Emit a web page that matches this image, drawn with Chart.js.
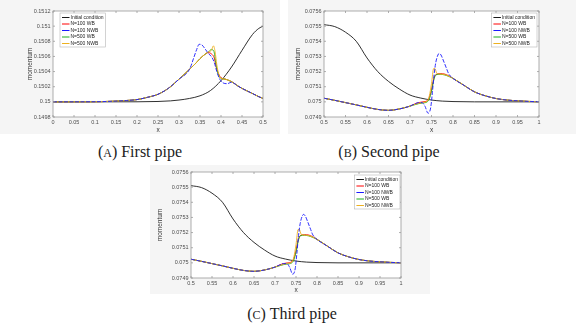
<!DOCTYPE html>
<html>
<head>
<meta charset="utf-8">
<script src="https://cdn.jsdelivr.net/npm/chart.js@4.4.1/dist/chart.umd.min.js"></script>
<style>
body { margin:0; width:576px; height:329px; background:#fff; position:relative; overflow:hidden; }
canvas { position:absolute; background:#f5f5f5; }
.cap { position:absolute; font-family:"Liberation Serif", "Times New Roman", serif; font-size:16px; line-height:16px; color:#222; white-space:nowrap; transform:translateX(-50%); }
.sc { font-size:12px; }
</style>
</head>
<body>
<canvas id="pipe1" width="280" height="134" style="left:0;top:0"></canvas>
<canvas id="pipe2" width="288" height="134" style="left:288px;top:0"></canvas>
<canvas id="pipe3" width="280" height="129" style="left:150px;top:165px"></canvas>
<div class="cap" style="left:140px;top:144px">(<span class="sc">A</span>) First pipe</div>
<div class="cap" style="left:389px;top:144px">(<span class="sc">B</span>) Second pipe</div>
<div class="cap" style="left:292px;top:306px">(<span class="sc">C</span>) Third pipe</div>
<script>
// series names
var seriesNames = ["Initial condition", "N=100 WB", "N=100 NWB", "N=500 WB", "N=500 NWB"];

// ---- first pipe ----
var xTicksA = [0, 0.05, 0.1, 0.15, 0.2, 0.25, 0.3, 0.35, 0.4, 0.45, 0.5];
var xLabelsA = ["0", "0.05", "0.1", "0.15", "0.2", "0.25", "0.3", "0.35", "0.4", "0.45", "0.5"];
var yTicksA = [0.1498, 0.15, 0.1502, 0.1504, 0.1506, 0.1508, 0.151, 0.1512];
var yLabelsA = ["0.1498", "0.15", "0.1502", "0.1504", "0.1506", "0.1508", "0.151", "0.1512"];

var xInitA = [0, 0.1, 0.2, 0.25, 0.28, 0.3, 0.325, 0.35, 0.375, 0.4, 0.425, 0.45, 0.475, 0.49, 0.5];
var yInitA = [0.15, 0.15, 0.150001, 0.150005, 0.150013, 0.150024, 0.150045, 0.15008, 0.15015, 0.15028, 0.15046, 0.15068, 0.15089, 0.15097, 0.151];

// part shared by the four runs
var xRiseA = [0, 0.1, 0.15, 0.175, 0.2, 0.225, 0.25, 0.275, 0.3, 0.325];
var yRiseA = [0.15, 0.150002, 0.15001, 0.150018, 0.15003, 0.15006, 0.1501, 0.15018, 0.1503, 0.15043];
var xTailA = [0.44, 0.45, 0.46, 0.475, 0.49, 0.5];
var yTailA = [0.15021, 0.150178, 0.15015, 0.15011, 0.150068, 0.150045];

var xWb100A = [0.34, 0.35, 0.36, 0.369, 0.378, 0.384, 0.389, 0.395, 0.4, 0.41, 0.42, 0.43];
var yWb100A = [0.15051, 0.15057, 0.15062, 0.15065, 0.15063, 0.15058, 0.15045, 0.15036, 0.15032, 0.1503, 0.15028, 0.15025];
var xNwb100A = [0.335, 0.342, 0.348, 0.355, 0.362, 0.37, 0.378, 0.384, 0.39, 0.397, 0.405, 0.415, 0.425, 0.435];
var yNwb100A = [0.15058, 0.15069, 0.15076, 0.15075, 0.1507, 0.15064, 0.15059, 0.15052, 0.1504, 0.1503, 0.15025, 0.15024, 0.15026, 0.15023];
var xWb500A = [0.34, 0.35, 0.36, 0.37, 0.377, 0.383, 0.388, 0.393, 0.4, 0.41, 0.42, 0.43];
var yWb500A = [0.15051, 0.15057, 0.15062, 0.15066, 0.15069, 0.15067, 0.1505, 0.15037, 0.15031, 0.1503, 0.15028, 0.15025];
var xNwb500A = [0.34, 0.35, 0.36, 0.37, 0.377, 0.382, 0.386, 0.39, 0.395, 0.4, 0.41, 0.42, 0.43];
var yNwb500A = [0.15051, 0.15057, 0.15062, 0.15066, 0.15068, 0.15074, 0.15066, 0.15049, 0.15036, 0.15031, 0.1503, 0.15028, 0.15025];

// ---- second and third pipe (same curves) ----
var xTicksB = [0.5, 0.55, 0.6, 0.65, 0.7, 0.75, 0.8, 0.85, 0.9, 0.95, 1];
var xLabelsB = ["0.5", "0.55", "0.6", "0.65", "0.7", "0.75", "0.8", "0.85", "0.9", "0.95", "1"];
var yTicksB = [0.0749, 0.075, 0.0751, 0.0752, 0.0753, 0.0754, 0.0755, 0.0756];
var yLabelsB = ["0.0749", "0.075", "0.0751", "0.0752", "0.0753", "0.0754", "0.0755", "0.0756"];

var xInitB = [0.5, 0.525, 0.55, 0.575, 0.6, 0.625, 0.65, 0.675, 0.7, 0.725, 0.75, 0.775, 0.8, 0.85, 1];
var yInitB = [0.07551, 0.075497, 0.07546, 0.0754, 0.07529, 0.0752, 0.075135, 0.075085, 0.075045, 0.075025, 0.075012, 0.075005, 0.075002, 0.075, 0.075];

var xStartB = [0.5, 0.525, 0.55, 0.575, 0.6, 0.625, 0.65, 0.675, 0.7];
var yStartB = [0.075024, 0.07501, 0.074995, 0.07498, 0.074964, 0.07495, 0.074944, 0.074953, 0.074972];
var xTailB = [0.8, 0.825, 0.85, 0.875, 0.9, 0.925, 0.95, 0.975, 1];
var yTailB = [0.075155, 0.07511, 0.075066, 0.07504, 0.075022, 0.075012, 0.075007, 0.075003, 0.075001];

var xWb100B = [0.71, 0.72, 0.73, 0.74, 0.745, 0.75, 0.755, 0.76, 0.77, 0.78, 0.79];
var yWb100B = [0.074985, 0.074995, 0.075, 0.075008, 0.07503, 0.07508, 0.07515, 0.07518, 0.075186, 0.075184, 0.075172];
var xNwb100B = [0.71, 0.72, 0.728, 0.735, 0.742, 0.748, 0.752, 0.756, 0.76, 0.765, 0.768, 0.772, 0.778, 0.785, 0.79];
var yNwb100B = [0.074985, 0.074995, 0.074995, 0.07497, 0.074925, 0.07496, 0.07506, 0.07518, 0.07526, 0.07531, 0.07532, 0.07531, 0.07527, 0.07522, 0.075185];
var xWb500B = [0.71, 0.72, 0.73, 0.74, 0.745, 0.75, 0.755, 0.76, 0.77, 0.78, 0.79];
var yWb500B = [0.07498, 0.074988, 0.074993, 0.075, 0.07502, 0.07507, 0.07514, 0.075178, 0.075182, 0.075178, 0.075168];
var xNwb500B = [0.71, 0.72, 0.73, 0.74, 0.745, 0.75, 0.755, 0.758, 0.762, 0.77, 0.78, 0.79];
var yNwb500B = [0.074982, 0.07499, 0.074996, 0.075005, 0.07504, 0.07512, 0.07522, 0.07522, 0.07519, 0.075183, 0.07518, 0.07517];

var lineColors = ["#1a1a1a", "#ff0000", "#1a1aff", "#1fae1f", "#edb120"];
var lineDashes = [[], [], [4, 1.5], [], []];
var drawOrder = [4, 3, 0, 2, 1];

function pts(xs, ys) {
    return xs.map(function (x, i) { return { x: x, y: ys[i] }; });
}

function buildSets(curves) {
    return curves.map(function (c, i) {
        return {
            label: seriesNames[i],
            data: c,
            borderColor: lineColors[i],
            borderDash: lineDashes[i],
            borderWidth: 0.9,
            pointRadius: 0,
            fill: false,
            cubicInterpolationMode: "monotone",
            order: drawOrder[i]
        };
    });
}

var tickFont = { family: "'Liberation Sans', Arial, sans-serif", size: 5.5 };
var titleFont = { family: "'Liberation Sans', Arial, sans-serif", size: 6.5 };

// white axes box, frame and inward tick marks like matlab
var axesBox = {
    id: "axesBox",
    beforeDraw: function (chart) {
        var a = chart.chartArea, ctx = chart.ctx;
        ctx.save();
        ctx.fillStyle = "#fff";
        ctx.fillRect(a.left, a.top, a.right - a.left, a.bottom - a.top);
        ctx.restore();
    },
    afterDatasetsDraw: function (chart) {
        var a = chart.chartArea, ctx = chart.ctx;
        var sx = chart.scales.x, sy = chart.scales.y;
        ctx.save();
        ctx.strokeStyle = "#9a9a9a";
        ctx.lineWidth = 0.8;
        ctx.strokeRect(a.left, a.top, a.right - a.left, a.bottom - a.top);
        ctx.beginPath();
        sx.ticks.forEach(function (t) {
            var p = sx.getPixelForValue(t.value);
            ctx.moveTo(p, a.bottom); ctx.lineTo(p, a.bottom - 2);
            ctx.moveTo(p, a.top); ctx.lineTo(p, a.top + 2);
        });
        sy.ticks.forEach(function (t) {
            var p = sy.getPixelForValue(t.value);
            ctx.moveTo(a.left, p); ctx.lineTo(a.left + 2, p);
            ctx.moveTo(a.right, p); ctx.lineTo(a.right - 2, p);
        });
        ctx.stroke();
        ctx.restore();
    }
};

// legend box inside the axes
var boxLegend = {
    id: "boxLegend",
    afterDatasetsDraw: function (chart, args, opts) {
        var ctx = chart.ctx, a = chart.chartArea;
        var sets = chart.data.datasets;
        ctx.save();
        ctx.font = "5px 'Liberation Sans', Arial, sans-serif";
        var tw = Math.max.apply(null, sets.map(function (d) { return ctx.measureText(d.label).width; }));
        var w = tw + 12.5, h = sets.length * 6.5 + 1.5;
        var left = opts.side === "left" ? a.left + opts.dx : a.right - opts.dx - w;
        var top = a.top + opts.dy;
        ctx.fillStyle = "#fff";
        ctx.fillRect(left, top, w, h);
        ctx.strokeStyle = "#b5b5b5";
        ctx.lineWidth = 0.6;
        ctx.strokeRect(left, top, w, h);
        ctx.textBaseline = "middle";
        sets.forEach(function (d, i) {
            var y = top + 4.5 + i * 6.5;
            ctx.strokeStyle = d.borderColor;
            ctx.lineWidth = 1;
            ctx.setLineDash([]);
            ctx.beginPath();
            ctx.moveTo(left + 2, y);
            ctx.lineTo(left + 9.5, y);
            ctx.stroke();
            ctx.fillStyle = "#222";
            ctx.fillText(d.label, left + 10.5, y);
        });
        ctx.restore();
    }
};

function makeChart(id, curves, xr, yr, lay) {
    return new Chart(document.getElementById(id), {
        type: "line",
        data: { datasets: buildSets(curves) },
        plugins: [axesBox, boxLegend],
        options: {
            responsive: false,
            animation: false,
            layout: { padding: lay.pad },
            plugins: {
                legend: { display: false },
                tooltip: { enabled: false },
                boxLegend: lay.legend
            },
            scales: {
                x: {
                    type: "linear",
                    min: xr.ticks[0],
                    max: xr.ticks[xr.ticks.length - 1],
                    afterBuildTicks: function (s) { s.ticks = xr.ticks.map(function (v) { return { value: v }; }); },
                    afterFit: function (s) { s.height = lay.xh; },
                    ticks: {
                        autoSkip: false, maxRotation: 0, padding: 2, color: "#4d4d4d", font: tickFont,
                        callback: function (v, i) { return xr.labels[i]; }
                    },
                    grid: { display: false, drawTicks: false },
                    border: { display: false },
                    title: { display: true, text: "x", color: "#333", font: titleFont, padding: 0 }
                },
                y: {
                    type: "linear",
                    min: yr.ticks[0],
                    max: yr.ticks[yr.ticks.length - 1],
                    afterBuildTicks: function (s) { s.ticks = yr.ticks.map(function (v) { return { value: v }; }); },
                    afterFit: function (s) { s.width = lay.yw; },
                    ticks: {
                        autoSkip: false, padding: 2.5, color: "#4d4d4d", font: tickFont,
                        callback: function (v, i) { return yr.labels[i]; }
                    },
                    grid: { display: false, drawTicks: false },
                    border: { display: false },
                    title: { display: true, text: "momentum", color: "#333", font: titleFont, padding: 0 }
                }
            }
        }
    });
}

var curvesA = [
    pts(xInitA, yInitA),
    pts(xRiseA.concat(xWb100A, xTailA), yRiseA.concat(yWb100A, yTailA)),
    pts(xRiseA.concat(xNwb100A, xTailA), yRiseA.concat(yNwb100A, yTailA)),
    pts(xRiseA.concat(xWb500A, xTailA), yRiseA.concat(yWb500A, yTailA)),
    pts(xRiseA.concat(xNwb500A, xTailA), yRiseA.concat(yNwb500A, yTailA))
];
function curvesB() {
    return [
        pts(xInitB, yInitB),
        pts(xStartB.concat(xWb100B, xTailB), yStartB.concat(yWb100B, yTailB)),
        pts(xStartB.concat(xNwb100B, xTailB), yStartB.concat(yNwb100B, yTailB)),
        pts(xStartB.concat(xWb500B, xTailB), yStartB.concat(yWb500B, yTailB)),
        pts(xStartB.concat(xNwb500B, xTailB), yStartB.concat(yNwb500B, yTailB))
    ];
}

makeChart("pipe1", curvesA, { ticks: xTicksA, labels: xLabelsA }, { ticks: yTicksA, labels: yLabelsA },
    { pad: { left: 26.5, top: 11, right: 17, bottom: 0 }, yw: 26.5, xh: 17, legend: { side: "left", dx: 7, dy: 2 } });
makeChart("pipe2", curvesB(), { ticks: xTicksB, labels: xLabelsB }, { ticks: yTicksB, labels: yLabelsB },
    { pad: { left: 6, top: 11, right: 37, bottom: 0 }, yw: 30, xh: 17, legend: { side: "right", dx: 2, dy: 2 } });
makeChart("pipe3", curvesB(), { ticks: xTicksB, labels: xLabelsB }, { ticks: yTicksB, labels: yLabelsB },
    { pad: { left: 6, top: 7, right: 29, bottom: 0 }, yw: 35, xh: 16, legend: { side: "right", dx: 1, dy: 3 } });
</script>
</body>
</html>
